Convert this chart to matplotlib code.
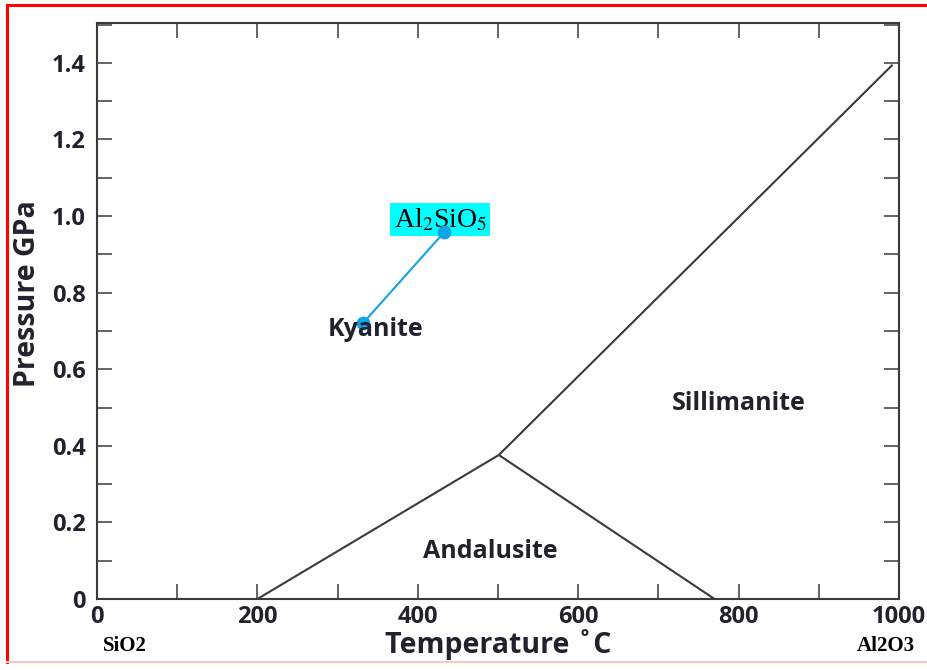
import matplotlib
matplotlib.use("Agg")
import matplotlib.pyplot as plt
from matplotlib.lines import Line2D
from matplotlib.ticker import MultipleLocator

plt.rcParams["mathtext.fontset"] = "stix"

# Al2SiO5 phase boundaries (temperature in C, pressure in GPa)
triple_point = (501, 0.376)
ky_and_T = [200, triple_point[0]]
ky_and_P = [0.0, triple_point[1]]
and_sil_T = [triple_point[0], 770]
and_sil_P = [triple_point[1], 0.0]
ky_sil_T = [triple_point[0], 992]
ky_sil_P = [triple_point[1], 1.395]

# highlighted pair of points
marker_T = [332, 433]
marker_P = [0.721, 0.958]

# field labels: (text, T, P)
field_labels = [("Kyanite", 348, 0.705),
                ("Sillimanite", 800, 0.510),
                ("Andalusite", 490, 0.124)]

x_ticks = [0, 200, 400, 600, 800, 1000]
y_ticks = [0, 0.2, 0.4, 0.6, 0.8, 1.0, 1.2, 1.4]
y_tick_labels = ["0", "0.2", "0.4", "0.6", "0.8", "1.0", "1.2", "1.4"]

W, H = 928, 670
fig = plt.figure(figsize=(W / 100, H / 100), dpi=100)
ax = fig.add_axes([97 / W, (H - 599) / H, (899 - 97) / W, (599 - 23) / H])

sans = "Open Sans"
text_color = "#22222e"
line_color = "#3a3a3a"

for T, P in [(ky_and_T, ky_and_P), (and_sil_T, and_sil_P), (ky_sil_T, ky_sil_P)]:
    ax.plot(T, P, color=line_color, lw=1.5, solid_capstyle="butt")

ax.plot(marker_T, marker_P, color="#12a4e6", lw=1.5, marker="o",
        markersize=10, markeredgewidth=0, zorder=4)

ax.text(428, 0.990, r"Al$_2$SiO$_5$", fontsize=20, family="Liberation Serif",
        ha="center", va="center", color="black", zorder=3,
        bbox=dict(boxstyle="square,pad=0.12", facecolor="#00ffff", edgecolor="none"))

for label, T, P in field_labels:
    ax.text(T, P, label, fontsize=18, family=sans, fontweight="bold",
            color=text_color, ha="center", va="center", zorder=5)

ax.set_xlim(0, 1000)
ax.set_ylim(0, 1.504)
ax.set_xticks(x_ticks)
ax.set_yticks(y_ticks)
ax.set_yticklabels(y_tick_labels)
ax.xaxis.set_minor_locator(MultipleLocator(100))
ax.yaxis.set_minor_locator(MultipleLocator(0.1))

ax.tick_params(which="both", direction="in", length=11, width=1.1,
               color=line_color, top=True, right=True)
ax.tick_params(axis="x", which="major", pad=4, labelsize=17, labelcolor=text_color)
ax.tick_params(axis="y", which="major", pad=8, labelsize=17, labelcolor=text_color)
for lab in ax.get_xticklabels() + ax.get_yticklabels():
    lab.set_family(sans)
    lab.set_fontweight("bold")

for sp in ax.spines.values():
    sp.set_color(line_color)
    sp.set_linewidth(1.5)

ax.set_xlabel("Temperature \u02daC", fontsize=20.5, family=sans, fontweight="bold",
              color=text_color, va="baseline")
ax.xaxis.set_label_coords(0.5, -0.094)
ax.set_ylabel("Pressure GPa", fontsize=20.5, family=sans, fontweight="bold",
              color=text_color, va="center")
ax.yaxis.set_label_coords(-0.087, 0.531)

fig.text(125 / W, (H - 646) / H, "SiO2", fontsize=15, family="Liberation Serif",
         fontweight="bold", ha="center", va="center", color="black")
fig.text(886 / W, (H - 646) / H, "Al2O3", fontsize=15, family="Liberation Serif",
         fontweight="bold", ha="center", va="center", color="black")

# frame around the figure
fig.add_artist(Line2D([7 / W, 7 / W], [(H - 662) / H, (H - 5) / H],
                      transform=fig.transFigure, color="red", lw=2.2))
fig.add_artist(Line2D([7 / W, 1.0], [(H - 5) / H, (H - 5) / H],
                      transform=fig.transFigure, color="red", lw=2.2))
fig.add_artist(Line2D([7 / W, 1.0], [(H - 662) / H, (H - 662) / H],
                      transform=fig.transFigure, color="#ffc4c4", lw=1.5))

fig.savefig("out.png", dpi=100)
